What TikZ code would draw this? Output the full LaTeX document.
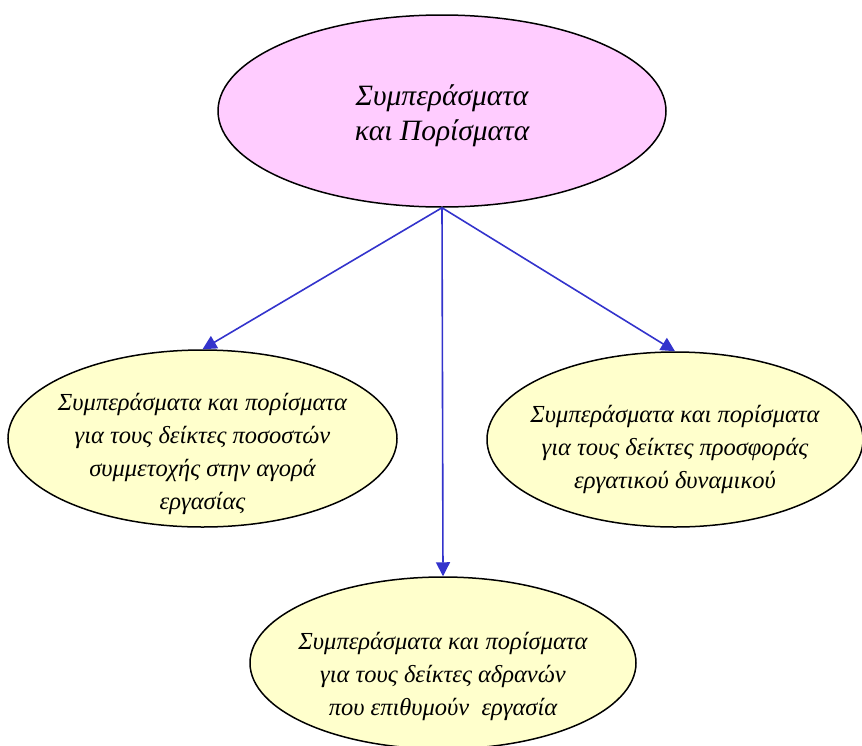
\documentclass[tikz,border=0pt]{standalone}
\usepackage{fontspec}
\setmainfont{Liberation Serif}
\usetikzlibrary{arrows.meta,shapes.geometric}
\definecolor{TopFill}{HTML}{FFCCFF}
\definecolor{LeafFill}{HTML}{FFFFCC}
\definecolor{LinkBlue}{HTML}{3333CC}
\newcommand\dropstrut[1]{\rule{0pt}{#1}}
\begin{document}
\begin{tikzpicture}[x=1pt,y=-1pt,
    bubble/.style={ellipse,draw=black,line width=1.5pt,inner xsep=-40pt,inner ysep=-30pt,
      align=center,font=\fontsize{24.5}{33}\selectfont\itshape},
    link/.style={LinkBlue,line width=1.6pt,-{Triangle[length=14pt,width=14pt]}}]
    \useasboundingbox (0,0) rectangle (862,745);
    \node[bubble,fill=TopFill,minimum width=448pt,minimum height=192pt,
      font=\fontsize{29.5}{35}\selectfont\itshape] (top) at (442,111)
      {\dropstrut{30pt}Συμπεράσματα\\και Πορίσματα};
    \node[bubble,fill=LeafFill,minimum width=389pt,minimum height=177pt] (left) at (202.5,438.5)
      {\dropstrut{48pt}Συμπεράσματα και πορίσματα\\για τους δείκτες ποσοστών\\συμμετοχής στην αγορά\\εργασίας};
    \node[bubble,fill=LeafFill,minimum width=376pt,minimum height=175pt] (right) at (675,439.5)
      {\dropstrut{38pt}Συμπεράσματα και πορίσματα\\για τους δείκτες προσφοράς\\εργατικού δυναμικού};
    \node[bubble,fill=LeafFill,minimum width=386pt,minimum height=172pt] (bottom) at (443,663)
      {\dropstrut{44pt}Συμπεράσματα και πορίσματα\\για τους δείκτες αδρανών\\που επιθυμούν \ εργασία};
    \foreach \leaf in {left,right,bottom}{%
      \draw[link] (top.south) -- (\leaf.north);
    }
  \end{tikzpicture}
\end{document}
